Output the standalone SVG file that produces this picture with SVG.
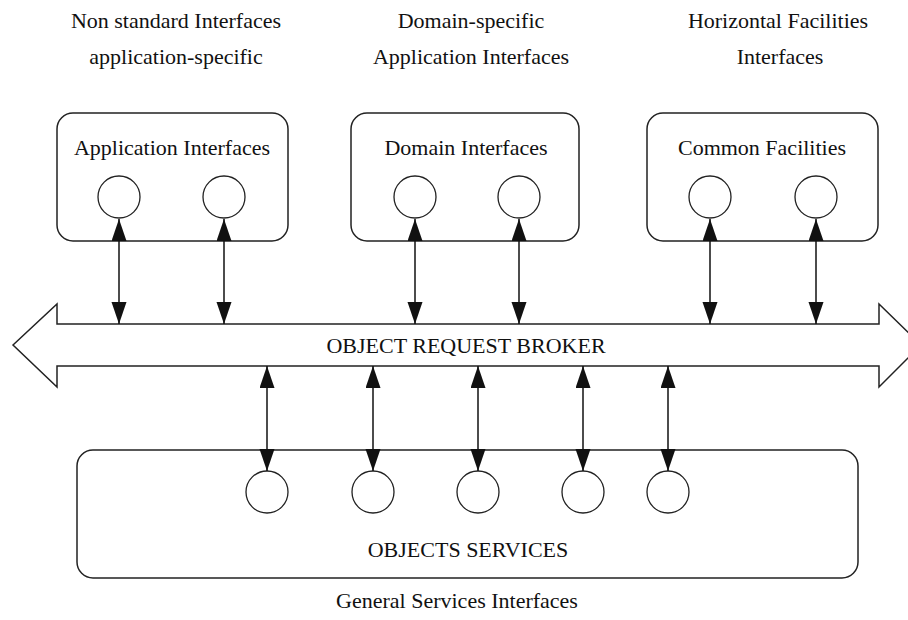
<svg xmlns="http://www.w3.org/2000/svg" width="908" height="620" viewBox="0 0 908 620">
<style>
text{font-family:"Liberation Serif","Times New Roman",serif;font-size:22px;fill:#111;text-anchor:middle}
.box{fill:none;stroke:#222;stroke-width:1.5}
.port{fill:#fff;stroke:#222;stroke-width:1.3}
.conn{stroke:#111;stroke-width:1.5;fill:none;marker-start:url(#ah);marker-end:url(#ah)}
</style>
<defs>
<marker id="ah" markerUnits="userSpaceOnUse" markerWidth="24" markerHeight="16" refX="22" refY="7.5" orient="auto-start-reverse">
<path d="M0,0 L22,7.5 L0,15 Z" fill="#111"/>
</marker>
</defs>
<rect width="908" height="620" fill="#fff"/>

<g id="headers">
<text x="176" y="28">Non standard Interfaces</text>
<text x="176" y="64">application-specific</text>
<text x="471" y="28">Domain-specific</text>
<text x="471" y="64">Application Interfaces</text>
<text x="778" y="28">Horizontal Facilities</text>
<text x="780" y="64">Interfaces</text>
</g>

<g id="application-interfaces">
<rect class="box" x="57" y="113" width="231" height="128" rx="16"/>
<text x="172" y="155">Application Interfaces</text>
<circle class="port" cx="119" cy="197" r="21"/>
<circle class="port" cx="224" cy="197" r="21"/>
</g>

<g id="domain-interfaces">
<rect class="box" x="351" y="113" width="228" height="128" rx="16"/>
<text x="466" y="155">Domain Interfaces</text>
<circle class="port" cx="415" cy="197" r="21"/>
<circle class="port" cx="519" cy="197" r="21"/>
</g>

<g id="common-facilities">
<rect class="box" x="647" y="113" width="231" height="128" rx="16"/>
<text x="762" y="155">Common Facilities</text>
<circle class="port" cx="710" cy="197" r="21"/>
<circle class="port" cx="816" cy="197" r="21"/>
</g>

<g id="object-request-broker">
<polygon class="box" points="13,345 57,304 57,324 879,324 879,304 921,345 879,387 879,366 57,366 57,387"/>
<text x="466" y="353">OBJECT REQUEST BROKER</text>
</g>

<g id="objects-services">
<rect class="box" x="77" y="450" width="781" height="128" rx="16"/>
<circle class="port" cx="267" cy="492" r="21"/>
<circle class="port" cx="373" cy="492" r="21"/>
<circle class="port" cx="478" cy="492" r="21"/>
<circle class="port" cx="583" cy="492" r="21"/>
<circle class="port" cx="668" cy="492" r="21"/>
<text x="468" y="557">OBJECTS SERVICES</text>
</g>

<g id="footer">
<text x="457" y="608">General Services Interfaces</text>
</g>

<g id="connectors">
<line class="conn" x1="119" y1="219" x2="119" y2="324"/>
<line class="conn" x1="224" y1="219" x2="224" y2="324"/>
<line class="conn" x1="415" y1="219" x2="415" y2="324"/>
<line class="conn" x1="519" y1="219" x2="519" y2="324"/>
<line class="conn" x1="710" y1="219" x2="710" y2="324"/>
<line class="conn" x1="816" y1="219" x2="816" y2="324"/>
<line class="conn" x1="267" y1="366" x2="267" y2="471"/>
<line class="conn" x1="373" y1="366" x2="373" y2="471"/>
<line class="conn" x1="478" y1="366" x2="478" y2="471"/>
<line class="conn" x1="583" y1="366" x2="583" y2="471"/>
<line class="conn" x1="668" y1="366" x2="668" y2="471"/>
</g>
</svg>
